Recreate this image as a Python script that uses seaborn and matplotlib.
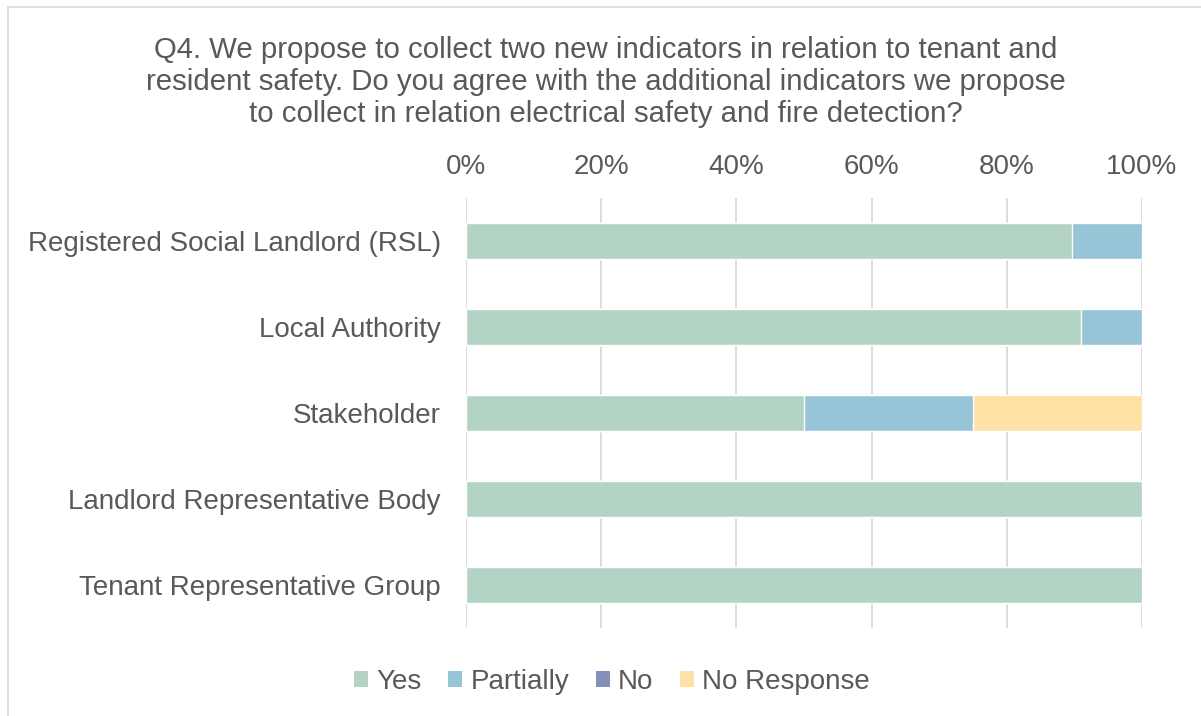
import matplotlib
matplotlib.use("Agg")
import matplotlib.pyplot as plt
from matplotlib.patches import Patch, Rectangle
from matplotlib.ticker import PercentFormatter
import numpy as np
import pandas as pd
import seaborn as sns

categories = [
    "Registered Social Landlord (RSL)",
    "Local Authority",
    "Stakeholder",
    "Landlord Representative Body",
    "Tenant Representative Group",
]
yes = [89.7, 91.0, 50.0, 100.0, 100.0]
partially = [10.3, 9.0, 25.0, 0.0, 0.0]
no = [0.0, 0.0, 0.0, 0.0, 0.0]
no_response = [0.0, 0.0, 25.0, 0.0, 0.0]

series_names = ["Yes", "Partially", "No", "No Response"]
series_colors = ["#B3D4C4", "#97C4D7", "#8490B9", "#FFE1A6"]

title = ("Q4. We propose to collect two new indicators in relation to tenant and\n"
         "resident safety. Do you agree with the additional indicators we propose\n"
         "to collect in relation electrical safety and fire detection?")

sns.set_theme(style="white")
plt.rcParams["font.family"] = ["Liberation Sans", "DejaVu Sans"]
text_color = "#595959"
fs = 20

df = pd.DataFrame({"category": categories, "Yes": yes, "Partially": partially,
                   "No": no, "No Response": no_response})
cum = df[series_names].cumsum(axis=1)

fig = plt.figure(figsize=(12.01, 7.16), dpi=100)
ax = fig.add_axes([466 / 1201, 1 - 628 / 716, (1142 - 466) / 1201, (628 - 198) / 716])

# stacked bars: draw cumulative totals from the outermost segment inward
for name, color in reversed(list(zip(series_names, series_colors))):
    sns.barplot(x=cum[name], y=df["category"], orient="h", color=color,
                width=0.41, saturation=1, ax=ax, zorder=3, order=categories)

ax.set_xlim(0, 100)
ax.xaxis.set_major_formatter(PercentFormatter(decimals=0))
ax.set_xticks(np.arange(0, 101, 20))
ax.xaxis.tick_top()
ax.grid(axis="x", color="#D9D9D9", linewidth=1.3, zorder=0)
ax.set_axisbelow(True)
for s in ax.spines.values():
    s.set_visible(False)
ax.set_xlabel("")
ax.set_ylabel("")
ax.tick_params(axis="both", length=0, labelsize=fs, colors=text_color)
ax.tick_params(axis="x", pad=13)
ax.tick_params(axis="y", pad=18)

fig.text(606 / 1201, 1 - 82 / 716, title, ha="center", va="center", fontsize=21.2,
         color=text_color, linespacing=1.18)

handles = [Patch(facecolor=c, edgecolor="none") for c in series_colors]
fig.legend(handles, series_names, loc="center", bbox_to_anchor=(612 / 1201, 1 - 682 / 716),
           ncol=4, frameon=False, fontsize=fs, labelcolor=text_color,
           handlelength=0.5, handleheight=0.5, handletextpad=0.3, columnspacing=0.95)

fig.patches.append(Rectangle((8 / 1201, -0.01), 1.2, 1 - 7 / 716 + 0.01,
                             transform=fig.transFigure, fill=False,
                             edgecolor="#D9D9D9", linewidth=1.2))

fig.savefig("out.png", dpi=100, facecolor="white")
